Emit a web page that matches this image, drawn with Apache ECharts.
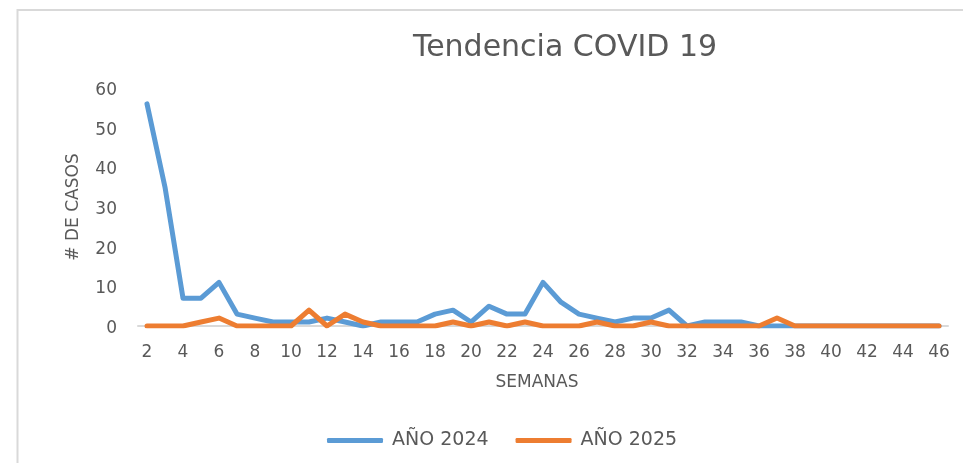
<!DOCTYPE html>
<html>
<head>
<meta charset="utf-8">
<script src="https://cdn.jsdelivr.net/npm/echarts@6/dist/echarts.min.js"></script>
<style>
html,body{margin:0;padding:0;background:#fff;}
#chart{width:963px;height:463px;}
</style>
</head>
<body>
<div id="chart"></div>
<script>
const weeks = ['2','3','4','5','6','7','8','9','10','11','12','13','14','15','16','17','18','19','20','21','22','23','24','25','26','27','28','29','30','31','32','33','34','35','36','37','38','39','40','41','42','43','44','45','46'];
const cases2024 = [56,35,7,7,11,3,2,1,1,1,2,1,0,1,1,1,3,4,1,5,3,3,11,6,3,2,1,2,2,4,0,1,1,1,0,0,0,0,0,0,0,0,0,0,0];
const cases2025 = [0,0,0,1,2,0,0,0,0,4,0,3,1,0,0,0,0,1,0,1,0,1,0,0,0,1,0,0,1,0,0,0,0,0,0,2,0,0,0,0,0,0,0,0,0];
const yTicks = {min: 0, max: 60, interval: 10};
const titleText = 'Tendencia COVID 19';
const seriesNames = ['AÑO 2024', 'AÑO 2025'];

const FONT = 'DejaVu Sans';
const GREY = '#595959';
const chart = echarts.init(document.getElementById('chart'), null, {renderer: 'canvas'});
chart.setOption({
  backgroundColor: '#ffffff',
  animation: false,
  title: {
    text: titleText,
    left: 560, textAlign: 'center', top: 28,
    textStyle: {fontFamily: FONT, fontSize: 30, fontWeight: 'normal', color: GREY}
  },
  legend: {
    left: 322, top: 426,
    itemWidth: 56, itemHeight: 5, itemGap: 27,
    icon: 'roundRect',
    textStyle: {fontFamily: FONT, fontSize: 19, color: GREY, padding: [0, 0, 0, 4]},
    data: seriesNames
  },
  grid: {left: 138, right: 15, top: 88, bottom: 137, containLabel: false},
  xAxis: {
    type: 'category',
    data: weeks,
    boundaryGap: true,
    name: 'SEMANAS',
    nameLocation: 'middle',
    nameGap: 48,
    nameTextStyle: {fontFamily: FONT, fontSize: 17, color: GREY, padding: [0, 12, 0, 0]},
    axisLine: {lineStyle: {color: '#d9d9d9', width: 2}},
    axisTick: {show: false},
    axisLabel: {interval: 1, fontFamily: FONT, fontSize: 17, color: GREY, margin: 18},
    splitLine: {show: false}
  },
  yAxis: {
    type: 'value',
    min: yTicks.min, max: yTicks.max, interval: yTicks.interval,
    name: '# DE CASOS',
    nameLocation: 'middle',
    nameGap: 56,
    nameRotate: 90,
    nameTextStyle: {fontFamily: FONT, fontSize: 17, color: GREY},
    axisLine: {show: false},
    axisTick: {show: false},
    axisLabel: {fontFamily: FONT, fontSize: 17, color: GREY, margin: 21, verticalAlign: 'top', lineHeight: 17, padding: [-6, 0, 0, 0]},
    splitLine: {show: false}
  },
  series: [
    {
      name: seriesNames[0], type: 'line', data: cases2024,
      showSymbol: false, symbol: 'none',
      lineStyle: {color: '#5B9BD5', width: 5, cap: 'round', join: 'round'},
      itemStyle: {color: '#5B9BD5'}
    },
    {
      name: seriesNames[1], type: 'line', data: cases2025,
      showSymbol: false, symbol: 'none',
      lineStyle: {color: '#ED7D31', width: 5, cap: 'round', join: 'round'},
      itemStyle: {color: '#ED7D31'}
    }
  ],
  graphic: [
    {type: 'line', shape: {x1: 17, y1: 10, x2: 963, y2: 10}, style: {stroke: '#d9d9d9', lineWidth: 2}, silent: true},
    {type: 'line', shape: {x1: 17.5, y1: 9, x2: 17.5, y2: 463}, style: {stroke: '#d9d9d9', lineWidth: 2}, silent: true}
  ]
});
</script>
</body>
</html>
